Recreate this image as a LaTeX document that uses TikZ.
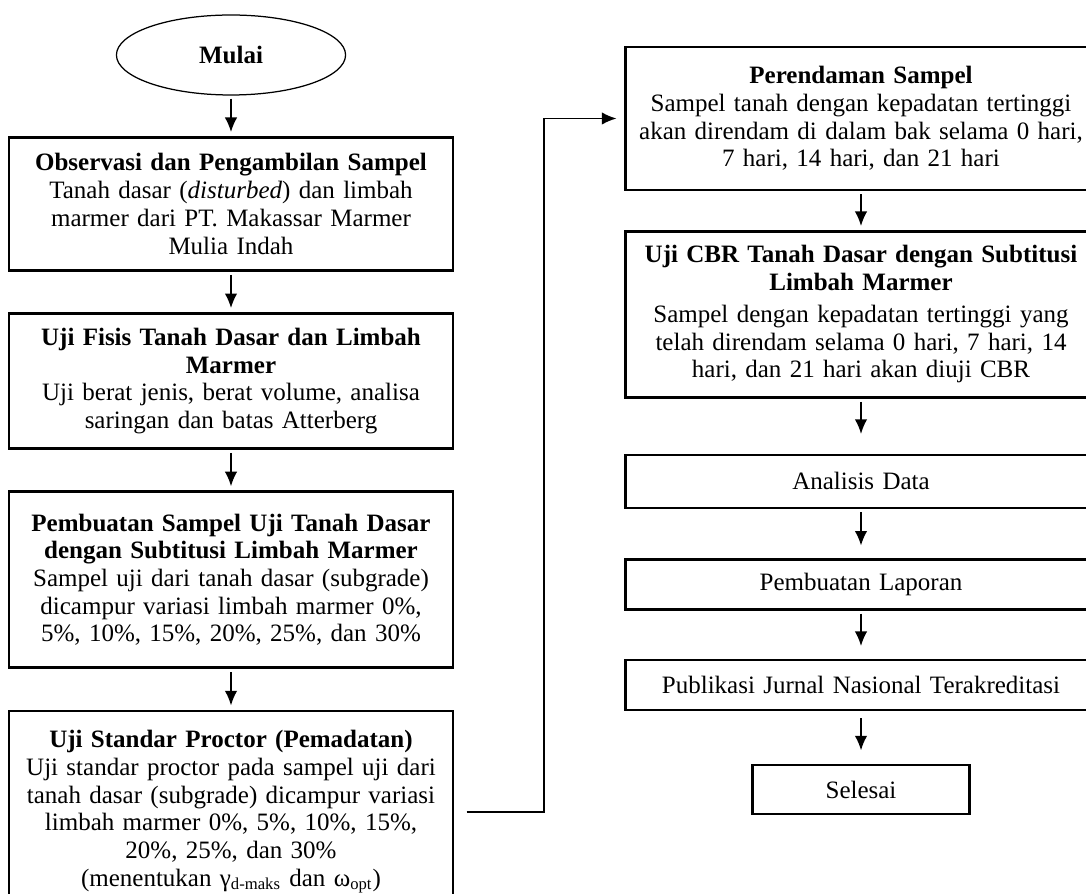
\documentclass[tikz,border=0pt]{standalone}
\usepackage{fontspec}
\setmainfont{Liberation Serif}
\usetikzlibrary{chains,shapes.geometric,arrows.meta}

\begin{document}
\begin{tikzpicture}
  [ x=0.48pt, y=-0.48pt,
    start chain=going below,
    node distance=19.5pt,
  every join/.style={dou}]
  \tikzset{
    base/.style={
      on chain,
      align=center,
      font=\fontsize{12pt}{13.3pt}\selectfont,
    },
    modele/.style={
      base,
      rectangle,
      draw=black, very thick,
      inner xsep=2pt, inner ysep=2pt,
      text width=209pt,
    },
    kanan/.style={
      modele,
      text width=222pt,
    },
    mulai/.style={
      base,
      ellipse, draw=black, semithick,
      minimum width=110pt, minimum height=38.4pt, inner sep=0pt,
    },
    dou/.style={-{Latex[length=7pt,width=6pt]}, draw, thick,
      shorten <=1.5pt, shorten >=2pt},
  }

  \useasboundingbox (0,0) rectangle (1086,894);

  \node[mulai] (mulai) at (231,55) {\textbf{Mulai}};
  \node[modele, join, minimum height=63.8pt] (observasi)
    {\textbf{Observasi dan Pengambilan Sampel}\\
     Tanah dasar (\textit{disturbed}) dan limbah\\
     marmer dari PT. Makassar Marmer\\
     Mulia Indah};
  \node[modele, join, minimum height=64.8pt] (fisis)
    {\textbf{Uji Fisis Tanah Dasar dan Limbah}\\
     \textbf{Marmer}\\
     Uji berat jenis, berat volume, analisa\\
     saringan dan batas Atterberg};
  \node[modele, join, minimum height=84.5pt] (pembuatan)
    {\textbf{Pembuatan Sampel Uji Tanah Dasar}\\
     \textbf{dengan Subtitusi Limbah Marmer}\\
     Sampel uji dari tanah dasar (subgrade)\\
     dicampur variasi limbah marmer 0\%,\\
     5\%, 10\%, 15\%, 20\%, 25\%, dan 30\%};
  \node[modele, join, minimum height=97pt] (proctor)
    {\textbf{Uji Standar Proctor (Pemadatan)}\\
     Uji standar proctor pada sampel uji dari\\
     tanah dasar (subgrade) dicampur variasi\\
     limbah marmer 0\%, 5\%, 10\%, 15\%,\\
     20\%, 25\%, dan 30\%\\
     (menentukan γ\textsubscript{d-maks} dan ω\textsubscript{opt})};

  \begin{scope}[start chain=kanan going below]
    \node[kanan, minimum height=68.6pt] (rendam) at (861,118.5)
      {\textbf{Perendaman Sampel}\\
       Sampel tanah dengan kepadatan tertinggi\\
       akan direndam di dalam bak selama 0 hari,\\
       7 hari, 14 hari, dan 21 hari};
    \node[node distance=18.7pt, kanan, join, minimum height=79.7pt] (cbr)
      {\textbf{Uji CBR Tanah Dasar dengan Subtitusi}\\
       \textbf{Limbah Marmer}\\[2pt]
       Sampel dengan kepadatan tertinggi yang\\
       telah direndam selama 0 hari, 7 hari, 14\\
       hari, dan 21 hari akan diuji CBR};
    \node[node distance=26.4pt, kanan, join=by {shorten >=9.5pt}, minimum height=25.4pt] (analisis)
      {Analisis Data};
    \node[node distance=23.5pt, kanan, join=by {shorten >=6pt}, minimum height=24pt] (laporan)
      {Pembuatan Laporan};
    \node[node distance=23pt, kanan, join=by {shorten >=6pt}, minimum height=24pt] (publikasi)
      {Publikasi Jurnal Nasional Terakreditasi};
    \node[node distance=25.4pt, modele, text width=100pt, join=by {shorten >=6.5pt, shorten <=3.5pt}, minimum height=23.5pt] (selesai)
      {Selesai};
  \end{scope}

  \coordinate (belok) at (544,0);
  \draw[dou, shorten <=6pt, shorten >=3.8pt] (proctor.east) -- (proctor.east -| belok) |- (rendam.west);
\end{tikzpicture}
\end{document}
